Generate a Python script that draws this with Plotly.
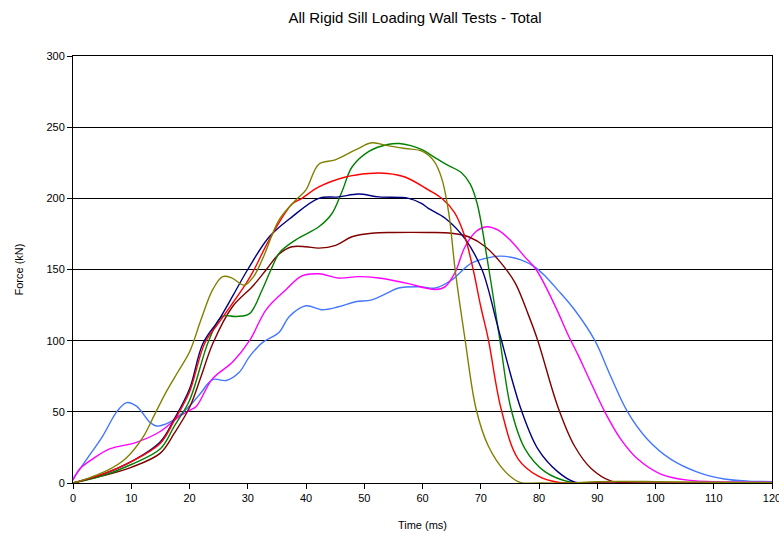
import plotly.graph_objects as go

# ---- data (time in ms, force in kN) ----
blue_t = [0, 2.4, 5.1, 7.5, 9.2, 10.9, 13.2, 14.4, 16.6, 19.5, 21.7, 24, 26.3, 28.5, 30.3, 32.5, 35.4, 37.1, 40, 42.7, 45.6, 48.5, 51.3, 54.2, 55.9, 59.8, 62.2, 65, 68.4, 71.8, 73.5, 77, 79.3, 81.2, 83.2, 86.1, 89.6, 92.3, 95.2, 98.6, 102.6, 107.2, 111.8, 116, 120]
blue_f = [3, 17, 33, 50, 56.5, 54, 42.7, 40, 42.7, 52, 62, 72.7, 72, 77.6, 88.8, 98.6, 106, 116.8, 124.5, 121.7, 123.8, 127.3, 128.7, 134, 137, 137.8, 137, 142.6, 154.5, 158.7, 159.4, 156.6, 151.7, 144.8, 135.7, 121.7, 100, 75, 50, 30.8, 16.8, 7.7, 2.8, 1.3, 1]

magenta_t = [0, 1.2, 3.4, 6.3, 10.9, 14.9, 18.3, 20, 21.2, 23.9, 27.4, 30.3, 33.2, 36.6, 39.3, 42.2, 45.6, 49, 52.5, 57, 62.2, 63.9, 65.6, 67.3, 69.3, 71, 73, 75.2, 77.6, 79.5, 82.7, 85, 86.7, 88.4, 91.3, 94, 96.9, 100.9, 105.5, 114, 120]
magenta_f = [2, 10, 17, 24, 28.6, 36, 47, 51, 54, 73, 85, 100, 122, 136, 145.5, 147, 144, 145, 144, 140.6, 136, 138, 148, 166, 177, 180, 177.6, 170, 158.7, 150, 125, 104, 90, 75, 50, 31, 17, 6.3, 2, 0.7, 0.5]

olive_t = [0, 3, 6, 9, 12, 14, 16, 18, 20, 22, 24, 25.7, 27.3, 29.4, 31, 32.5, 35.4, 38.3, 40, 42.2, 45, 48.5, 51.3, 54, 57, 60, 62, 63.3, 64.5, 65.6, 67.3, 69.2, 71.3, 74.2, 76.7, 80, 85, 90, 100, 110, 120]
olive_f = [0, 4, 9, 17, 32, 48, 64, 78, 92, 115, 136, 145, 144, 139, 145, 157, 185, 199, 206, 224, 227, 234, 239, 237, 235, 233, 226, 214, 190, 150, 101, 52, 26, 8, 0.5, 0, 0, 1, 1, 0.5, 0.3]

red_t = [0, 5, 10, 15, 17.4, 20, 22.6, 25.1, 29.7, 31.1, 33.7, 37.6, 39.3, 42.2, 46.8, 50.8, 54, 57, 61, 63.3, 65.5, 67.2, 68.7, 70, 71.3, 73.5, 76.4, 79.8, 83.2, 86, 120]
red_f = [0, 6, 15, 28, 44, 64, 98, 113, 140, 150, 171, 196, 200, 208, 215, 217.5, 217.5, 215, 206, 200, 190, 174, 150, 124, 101, 52, 17, 5, 0.5, 0, 0]

green_t = [0, 5, 10, 15, 17.4, 20, 23.3, 25.6, 28, 30.3, 32.5, 34, 35.5, 38.3, 42.2, 44.4, 46.2, 47.9, 50.8, 54.2, 56, 58, 60, 62, 64, 66.7, 68.2, 69.4, 71.4, 73.3, 75.2, 77.6, 81, 85.5, 88, 120]
green_f = [0, 5, 13, 24, 40, 58, 100, 117, 117, 119, 136, 150, 162, 171, 180, 189, 205, 222, 233, 238, 238.5, 237, 234, 229, 224, 218, 210, 196, 150, 100, 52, 24, 8, 0.5, 0, 0]

navy_t = [0, 5, 10, 15, 17.4, 20, 22.3, 25.1, 27.5, 30, 33.7, 37.6, 42.2, 45.6, 49, 52.5, 57.6, 59.8, 61, 63.9, 67.4, 70.2, 71.3, 72.6, 73.5, 76.9, 79.8, 83.2, 86.2, 90, 120]
navy_f = [0, 6, 15, 29, 45, 66, 98, 115, 132, 150, 173, 187, 200, 201, 203, 201, 200, 196.5, 193, 186, 171, 150, 136, 115, 101, 52, 24, 8, 0.5, 0, 0]

maroon_t = [0, 5, 10, 15, 17.4, 20, 22, 24, 27.4, 30.8, 33.2, 35.4, 37.6, 40, 42.2, 45.1, 47.9, 51.3, 55, 61, 65, 67.9, 70.8, 73.5, 75.9, 78.1, 79.8, 83.2, 86.1, 89, 92.3, 96, 120]
maroon_f = [0, 5, 11, 21, 35, 53, 75, 98, 124, 138, 150, 161, 166, 166, 165, 167, 173, 175.5, 176, 176, 175.5, 173, 166, 154.5, 140.6, 119, 100, 54, 26, 10, 1.5, 0, 0]

series = [
    ("Test 1", blue_t, blue_f, "#4477FF"),
    ("Test 2", magenta_t, magenta_f, "#FF00FF"),
    ("Test 3", maroon_t, maroon_f, "#800000"),
    ("Test 4", green_t, green_f, "#008000"),
    ("Test 5", navy_t, navy_f, "#000080"),
    ("Test 6", red_t, red_f, "#FF0000"),
    ("Test 7", olive_t, olive_f, "#808000"),
]

x_ticks = [0, 10, 20, 30, 40, 50, 60, 70, 80, 90, 100, 110, 120]
y_ticks = [0, 50, 100, 150, 200, 250, 300]

fig = go.Figure()
for name, t, f, c in series:
    fig.add_trace(go.Scatter(x=t, y=f, mode="lines", name=name,
                             line=dict(color=c, width=1.4, shape="spline", smoothing=1.0)))

font = "Liberation Sans, Arial, sans-serif"
fig.update_layout(
    width=779, height=534,
    margin=dict(l=73, r=7, t=56, b=51, autoexpand=False),
    paper_bgcolor="white", plot_bgcolor="white",
    showlegend=False,
    font=dict(family=font, size=11, color="black"),
    title=dict(text="All Rigid Sill Loading Wall Tests - Total", font=dict(family=font, size=15, color="black"),
               x=415 / 779, xanchor="center", y=1 - 18 / 534, yanchor="middle", xref="container", yref="container"),
)
fig.update_xaxes(range=[0, 120], tickvals=x_ticks, ticks="outside", ticklen=5, tickcolor="black",
                 showline=True, linecolor="black", linewidth=1, mirror=True, showgrid=False, zeroline=False,
                 automargin=False, ticklabeloverflow="allow",
                 title=dict(text="Time (ms)", font=dict(size=11), standoff=18), tickfont=dict(size=11))
fig.update_yaxes(range=[0, 300], tickvals=y_ticks, ticks="outside", ticklen=5, tickcolor="black",
                 showline=True, linecolor="black", linewidth=1, mirror=True, showgrid=True,
                 gridcolor="black", gridwidth=1, zeroline=False, ticksuffix="\u00a0",
                 automargin=False, ticklabeloverflow="allow",
                 title=dict(text="Force (kN)", font=dict(size=11), standoff=20), tickfont=dict(size=11))

fig.write_html("out.html", post_script="document.body.style.margin='0';",
               config={"displayModeBar": False})
